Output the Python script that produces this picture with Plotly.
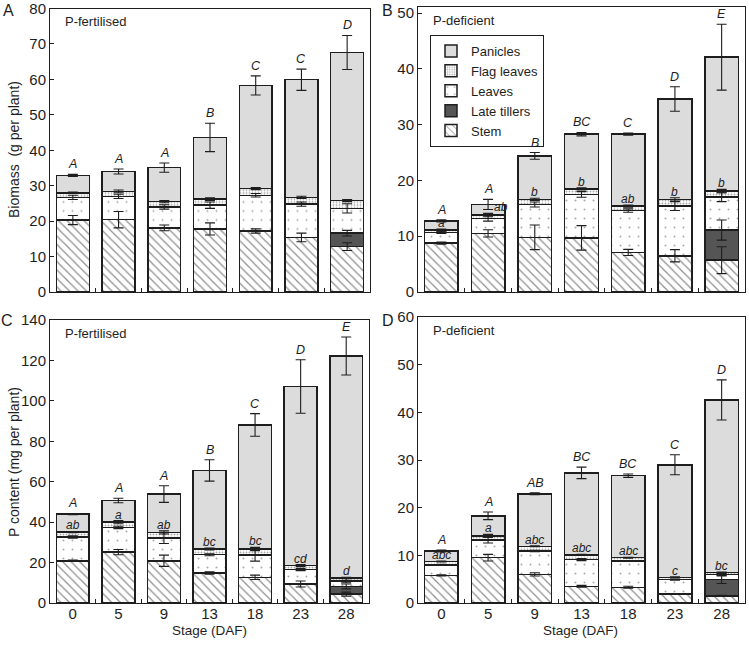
import numpy as np
import plotly.graph_objects as go

stages = ["0", "5", "9", "13", "18", "23", "28"]
parts = ["Stem", "Late tillers", "Leaves", "Flag leaves", "Panicles"]

# --- A: biomass, P-fertilised (g per plant) ---
a_stem = [20.3, 20.4, 18.1, 17.8, 17.2, 15.4, 12.8]
a_tillers = [0, 0, 0, 0, 0, 0, 3.8]
a_leaves = [6.4, 6.6, 5.9, 6.7, 10.1, 9.4, 7.0]
a_flag = [1.3, 1.4, 1.5, 1.7, 1.9, 1.9, 2.2]
a_panicles = [4.9, 5.6, 9.6, 17.4, 29.1, 33.2, 41.8]
a_stem_err = [1.3, 2.3, 0.8, 1.7, 0.6, 1.2, 1.1]
a_tillers_err = [0, 0, 0, 0, 0, 0, 0.8]
a_leaves_err = [0.6, 0.6, 0.6, 0.9, 0.5, 0.6, 1.3]
a_flag_err = [0.2, 0.4, 0.3, 0.4, 0.3, 0.3, 0.3]
a_panicles_err = [0.3, 0.7, 1.3, 4.0, 2.7, 3.0, 4.8]
a_upper = ["A", "A", "A", "B", "C", "C", "D"]
a_lower = ["", "", "", "", "", "", ""]

# --- B: biomass, P-deficient (g per plant) ---
b_stem = [8.75, 10.5, 9.8, 9.7, 7.1, 6.5, 5.7]
b_tillers = [0, 0, 0, 0, 0, 0, 5.4]
b_leaves = [1.95, 2.7, 5.9, 7.8, 7.5, 8.9, 5.9]
b_flag = [0.4, 0.6, 0.9, 1.0, 0.8, 1.2, 1.1]
b_panicles = [1.65, 1.9, 7.8, 9.8, 12.9, 18.0, 24.0]
b_stem_err = [0.2, 0.65, 2.2, 2.2, 0.55, 1.1, 2.4]
b_tillers_err = [0, 0, 0, 0, 0, 0, 1.8]
b_leaves_err = [0.2, 0.5, 0.45, 0.5, 0.3, 0.8, 0.8]
b_flag_err = [0.2, 0.3, 0.2, 0.2, 0.2, 0.3, 0.3]
b_panicles_err = [0.2, 0.9, 0.6, 0.3, 0.2, 2.2, 5.9]
b_upper = ["A", "A", "B", "BC", "C", "D", "E"]
b_lower = ["a", "ab", "b", "b", "ab", "b", "b"]

# --- C: P content, P-fertilised (mg per plant) ---
c_stem = [20.9, 25.2, 20.9, 14.8, 12.7, 9.4, 4.4]
c_tillers = [0, 0, 0, 0, 0, 0, 3.8]
c_leaves = [11.7, 12.2, 11.2, 9.1, 11.0, 7.1, 2.8]
c_flag = [2.5, 2.6, 2.8, 2.8, 3.0, 2.0, 1.4]
c_panicles = [8.9, 10.7, 19.0, 38.9, 61.4, 88.6, 109.8]
c_stem_err = [0.3, 1.3, 2.8, 0.6, 1.1, 1.5, 1.0]
c_tillers_err = [0, 0, 0, 0, 0, 0, 1.2]
c_leaves_err = [0.6, 0.6, 2.7, 0.5, 3.0, 0.5, 1.0]
c_flag_err = [0.3, 0.8, 0.8, 0.5, 0.8, 0.5, 0.3]
c_panicles_err = [0.3, 1.1, 4.1, 5.3, 5.6, 13.2, 9.4]
c_upper = ["A", "A", "A", "B", "C", "D", "E"]
c_lower = ["ab", "a", "ab", "bc", "bc", "cd", "d"]

# --- D: P content, P-deficient (mg per plant) ---
d_stem = [5.8, 9.5, 6.0, 3.5, 3.3, 1.9, 1.5]
d_tillers = [0, 0, 0, 0, 0, 0, 3.4]
d_leaves = [2.2, 3.7, 4.9, 5.6, 5.5, 3.0, 1.1]
d_flag = [0.7, 0.9, 1.0, 1.0, 0.7, 0.5, 0.4]
d_panicles = [2.2, 4.2, 11.0, 17.2, 17.2, 23.6, 36.2]
d_stem_err = [0.1, 0.7, 0.35, 0.2, 0.2, 0.1, 0.1]
d_tillers_err = [0, 0, 0, 0, 0, 0, 0.8]
d_leaves_err = [0.1, 0.6, 0.15, 0.2, 0.1, 0.1, 0.2]
d_flag_err = [0.1, 0.3, 0.1, 0.1, 0.1, 0.1, 0.1]
d_panicles_err = [0.2, 0.8, 0.2, 1.2, 0.35, 2.1, 4.2]
d_upper = ["A", "A", "AB", "BC", "BC", "C", "D"]
d_lower = ["abc", "a", "abc", "abc", "abc", "c", "bc"]

W, H = 749, 645
FONT = "Liberation Sans, Arial, sans-serif"
INK = "#1e1e1e"


def px(x, y):
    return x / W, 1 - y / H


styles = {
    "Stem": dict(color="white", pattern=dict(shape="\\", fgcolor=INK, bgcolor="white", size=6, solidity=0.2)),
    "Late tillers": dict(color="#555555"),
    "Leaves": dict(color="white", pattern=dict(shape=".", fgcolor="#555555", bgcolor="white", size=9, solidity=0.04)),
    "Flag leaves": dict(color="white", pattern=dict(shape=".", fgcolor="#555555", bgcolor="white", size=3, solidity=0.3)),
    "Panicles": dict(color="#dcdcdc"),
}

panels = [
    dict(name="A", label="P-fertilised", segs=[a_stem, a_tillers, a_leaves, a_flag, a_panicles],
         errs=[a_stem_err, a_tillers_err, a_leaves_err, a_flag_err, a_panicles_err],
         upper=a_upper, lower=a_lower, box=(50, 370, 8.5, 292), yr=80, xlab=False),
    dict(name="B", label="P-deficient", segs=[b_stem, b_tillers, b_leaves, b_flag, b_panicles],
         errs=[b_stem_err, b_tillers_err, b_leaves_err, b_flag_err, b_panicles_err],
         upper=b_upper, lower=b_lower, box=(418, 745, 7, 292), yr=51.1, xlab=False),
    dict(name="C", label="P-fertilised", segs=[c_stem, c_tillers, c_leaves, c_flag, c_panicles],
         errs=[c_stem_err, c_tillers_err, c_leaves_err, c_flag_err, c_panicles_err],
         upper=c_upper, lower=c_lower, box=(50, 369, 320, 603), yr=140, xlab=True),
    dict(name="D", label="P-deficient", segs=[d_stem, d_tillers, d_leaves, d_flag, d_panicles],
         errs=[d_stem_err, d_tillers_err, d_leaves_err, d_flag_err, d_panicles_err],
         upper=d_upper, lower=d_lower, box=(418, 745, 317, 603), yr=60, xlab=True),
]

fig = go.Figure()
annotations = []
xpos = np.arange(len(stages))

for k, p in enumerate(panels):
    n = "" if k == 0 else str(k + 1)
    xa, ya = "x" + n, "y" + n
    segs = np.array(p["segs"], dtype=float)
    tops = np.cumsum(segs, axis=0)
    for j, part in enumerate(parts):
        vals = [v if v > 0 else None for v in segs[j]]
        fig.add_trace(go.Bar(
            x=xpos, y=vals, name=part, xaxis=xa, yaxis=ya, width=0.72,
            marker=dict(line=dict(color=INK, width=1.5), **styles[part]),
            showlegend=(k == 1), legendrank=10 - j, hoverinfo="skip"))
    for j in range(len(parts)):
        err = np.array(p["errs"][j], dtype=float)
        keep = err > 0
        fig.add_trace(go.Scatter(
            x=xpos[keep], y=tops[j][keep], mode="markers", xaxis=xa, yaxis=ya,
            marker=dict(size=1, color="rgba(0,0,0,0)"), showlegend=False, hoverinfo="skip",
            error_y=dict(type="data", array=err[keep], color=INK, thickness=1.1, width=5)))
    # significance letters
    top_err = np.array(p["errs"][4], dtype=float)
    flag_err = np.array(p["errs"][3], dtype=float)
    for i in range(len(stages)):
        annotations.append(dict(x=i, y=tops[4][i] + top_err[i], xref=xa, yref=ya,
                                text="<i>%s</i>" % p["upper"][i], showarrow=False,
                                yanchor="bottom", yshift=1, font=dict(size=12.5, color=INK)))
        if p["lower"][i]:
            shift = 13 if (p["name"] == "B" and i == 1) else 0
            annotations.append(dict(x=i, y=tops[3][i] + flag_err[i], xref=xa, yref=ya,
                                    text="<i>%s</i>" % p["lower"][i], showarrow=False,
                                    yanchor="bottom", yshift=-3, xshift=shift,
                                    font=dict(size=12, color=INK)))
    x0, x1, y0, y1 = p["box"]
    dx0, dy0 = px(x0, y1)
    dx1, dy1 = px(x1, y0)
    fig.layout["xaxis" + n] = dict(
        domain=[dx0, dx1], range=[-0.5, 6.5], anchor=ya, tickmode="array", automargin=False,
        tickvals=list(xpos), ticktext=stages, ticks="", showticklabels=p["xlab"],
        ticklabelstandoff=-3,
        showline=True, mirror=True, linecolor=INK, linewidth=1, showgrid=False, zeroline=False,
        tickfont=dict(size=15, color=INK),
        minor=dict(tickmode="array", tickvals=list(xpos[:-1] + 0.5), ticks="inside",
                   ticklen=4, tickcolor=INK, showgrid=False))
    fig.layout["yaxis" + n] = dict(
        domain=[dy0, dy1], range=[0, p["yr"]], anchor=xa, dtick=20 if p["yr"] > 100 else 10,
        automargin=False, ticklabeloverflow="allow", ticks="inside", ticklen=4, tickcolor=INK,
        showline=True, mirror=True, linecolor=INK, linewidth=1, showgrid=False, zeroline=False,
        tickfont=dict(size=15, color=INK))
    lx, ly = px(x0 + 13, y0 + 13)
    annotations.append(dict(x=lx, y=ly, xref="paper", yref="paper", text=p["label"],
                            showarrow=False, xanchor="left", yanchor="middle",
                            font=dict(size=13, color=INK)))

# panel letters
for letter, (lx, ly) in zip("ABCD", [(8, 10), (387, 10), (7, 321), (388, 320)]):
    x, y = px(lx, ly)
    annotations.append(dict(x=x, y=y, xref="paper", yref="paper", text=letter, showarrow=False,
                            xanchor="center", yanchor="middle", font=dict(size=16, color=INK)))

# axis titles
for text, (tx, ty) in [("Biomass  (g per plant)", (14, 150)), ("P content (mg per plant)", (14, 462))]:
    x, y = px(tx, ty)
    annotations.append(dict(x=x, y=y, xref="paper", yref="paper", text=text, showarrow=False,
                            textangle=-90, xanchor="center", yanchor="middle",
                            font=dict(size=14, color=INK)))
for tx in (210, 580):
    x, y = px(tx, 630)
    annotations.append(dict(x=x, y=y, xref="paper", yref="paper", text="Stage (DAF)",
                            showarrow=False, xanchor="center", yanchor="middle",
                            font=dict(size=13.5, color=INK)))

lgx, lgy = px(430, 35)
fig.update_layout(
    width=W, height=H, margin=dict(l=0, r=0, t=0, b=0, autoexpand=False),
    paper_bgcolor="white", plot_bgcolor="white", barmode="stack",
    font=dict(family=FONT, color=INK),
    annotations=annotations,
    legend=dict(x=lgx, y=lgy, xanchor="left", yanchor="top", bgcolor="white",
                bordercolor=INK, borderwidth=1, font=dict(size=13, color=INK),
                traceorder="normal", tracegroupgap=0, itemwidth=30),
)

# the page body has a default 8px margin; drop it so the figure sits at the window corner
fig.write_html("out.html", config={"displayModeBar": False},
               post_script="document.body.style.margin='0px';")
